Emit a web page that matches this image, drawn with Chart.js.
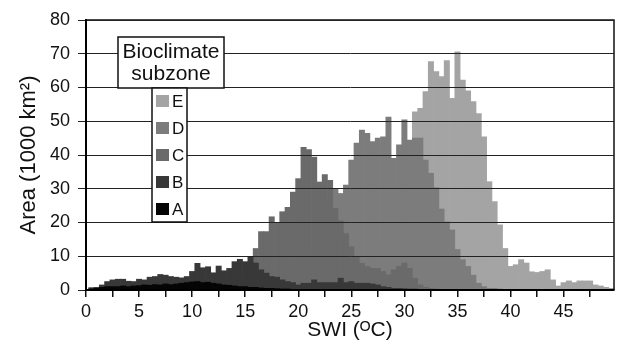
<!DOCTYPE html>
<html>
<head>
<meta charset="utf-8">
<script src="https://cdn.jsdelivr.net/npm/chart.js@4.4.1/dist/chart.umd.min.js"></script>
<style>
  html, body { margin: 0; padding: 0; background: #fff; }
</style>
</head>
<body>
<canvas id="swi" width="621" height="349"></canvas>
<script>
// SWI bin centres (0.5 °C bins)
const swiBins = [
   0.5,  1.0,  1.5,  2.0,  2.5,  3.0,  3.5,  4.0,  4.5,  5.0,
   5.5,  6.0,  6.5,  7.0,  7.5,  8.0,  8.5,  9.0,  9.5, 10.0,
  10.5, 11.0, 11.5, 12.0, 12.5, 13.0, 13.5, 14.0, 14.5, 15.0,
  15.5, 16.0, 16.5, 17.0, 17.5, 18.0, 18.5, 19.0, 19.5, 20.0,
  20.5, 21.0, 21.5, 22.0, 22.5, 23.0, 23.5, 24.0, 24.5, 25.0,
  25.5, 26.0, 26.5, 27.0, 27.5, 28.0, 28.5, 29.0, 29.5, 30.0,
  30.5, 31.0, 31.5, 32.0, 32.5, 33.0, 33.5, 34.0, 34.5, 35.0,
  35.5, 36.0, 36.5, 37.0, 37.5, 38.0, 38.5, 39.0, 39.5, 40.0,
  40.5, 41.0, 41.5, 42.0, 42.5, 43.0, 43.5, 44.0, 44.5, 45.0,
  45.5, 46.0, 46.5, 47.0, 47.5, 48.0, 48.5, 49.0, 49.5
];

// area per bin, 1000 km2
const areaA = [
  0.3,0.5,0.8,1.0,1.0,1.0,1.2,1.0,1.2,1.3,
  1.5,1.4,1.6,1.5,1.8,1.6,1.8,2.0,2.2,2.4,
  2.5,2.2,2.3,2.0,1.8,1.5,1.4,1.2,1.0,1.0,
  0.8,0.8,0.6,0.5,0.5,0.4,0.3,0.3,0.2,0.2,
  0.2,0.2,0.2,0.2,0.2,0.2,0.2,0.2,0.1,0.1,
  0.1,0.1,0.1,0.1,0,0,0,0,0,0,
  0,0,0,0,0,0,0,0,0,0,
  0,0,0,0,0,0,0,0,0,0,
  0,0,0,0,0,0,0,0,0,0,
  0,0,0,0,0,0,0,0,0
];
const areaB = [
  0.7,0.8,1.5,2.5,3.0,3.2,3.2,2.6,2.5,3.2,
  3.0,3.8,4.0,4.6,4.4,4.0,3.8,3.6,4.0,5.5,
  7.9,6.6,6.9,5.1,7.1,5.7,6.4,8.4,9.1,8.4,
  9.9,8.0,6.0,5.0,4.0,3.8,3.0,2.5,2.2,1.5,
  2.0,2.0,3.0,2.2,2.2,2.2,2.2,3.5,2.2,2.5,
  2.0,2.0,2.0,1.8,1.5,1.0,0.8,0.5,0.5,0.4,
  0.3,0.3,0.2,0.2,0.2,0.1,0.1,0,0,0,
  0,0,0,0,0,0,0,0,0,0,
  0,0,0,0,0,0,0,0,0,0,
  0,0,0,0,0,0,0,0,0
];
const areaC = [
  0,0,0,0,0,0,0,0,0,0,
  0,0,0,0,0,0,0,0,0,0,
  0,0,0,0,0,0.5,1.0,2.0,3.0,4.0,
  6.0,12.3,17.3,17.3,21.7,19.8,23.2,24.5,29.0,33.0,
  42.3,41.6,39.4,32.0,34.2,32.5,24.2,20.5,16.7,12.8,
  9.9,7.9,6.9,6.4,6.4,5.5,4.5,6.0,7.0,8.0,
  6.4,3.5,1.5,0.8,0.5,0.3,0.2,0,0,0,
  0,0,0,0,0,0,0,0,0,0,
  0,0,0,0,0,0,0,0,0,0,
  0,0,0,0,0,0,0,0,0
];
const areaD = [
  0,0,0,0,0,0,0,0,0,0,
  0,0,0,0,0,0,0,0,0,0,
  0,0,0,0,0,0,0,0,0,0,
  0,0,0,0,0,0.5,1.0,1.5,2.0,3.0,
  5.0,8.0,11.0,16.0,21.0,27.0,30.1,28.6,31.1,38.5,
  43.5,47.4,46.4,44.0,45.0,45.4,51.2,39.0,43.0,50.4,
  44.4,45.0,45.0,38.5,34.6,30.3,24.0,20.2,17.8,12.0,
  9.0,7.0,4.4,2.0,1.0,0.5,0.5,0.3,0.2,0.2,
  0.1,0,0,0,0,0,0,0,0,0,
  0,0,0,0,0,0,0,0,0
];
const areaE = [
  0,0,0,0,0,0,0,0,0,0,
  0,0,0,0,0,0,0,0,0,0,
  0,0,0,0,0,0,0,0,0,0,
  0,0,0,0,0,0,0,0,0,0,
  0,0,0,0,0,0,0.5,1.0,1.5,2.0,
  4.0,6.0,8.0,10.0,13.0,16.0,20.0,25.0,30.0,36.0,
  42.0,52.8,53.8,58.8,67.7,64.7,63.2,68.0,56.8,70.6,
  62.2,59.0,55.8,52.3,45.4,32.1,26.2,19.3,12.3,7.0,
  7.5,9.0,8.0,5.4,5.2,5.5,6.0,3.0,1.2,2.2,
  2.7,2.2,2.7,2.7,2.7,1.5,1.2,0.8,0.5
];

const subzones = ['A', 'B', 'C', 'D', 'E'];
const subzoneColors = ['#050505', '#383838', '#6a6a6a', '#7c7c7c', '#a4a4a4'];
const areas = [areaA, areaB, areaC, areaD, areaE];

const yTicks = [0, 10, 20, 30, 40, 50, 60, 70, 80];

const fontFamily = "'Liberation Sans', Arial, sans-serif";

// legend box drawn inside the plot, top left
const subzoneKey = {
  id: 'subzoneKey',
  afterDraw(chart) {
    const { ctx, chartArea } = chart;
    const x0 = chartArea.left + 32;
    const y0 = chartArea.top + 17;
    ctx.save();
    ctx.lineWidth = 1.5;
    ctx.strokeStyle = '#111';
    ctx.fillStyle = '#fff';
    // title box
    ctx.fillRect(x0, y0, 106, 51);
    ctx.strokeRect(x0, y0, 106, 51);
    ctx.fillStyle = '#111';
    ctx.font = '21px ' + fontFamily;
    ctx.textAlign = 'center';
    ctx.textBaseline = 'middle';
    ctx.fillText('Bioclimate', x0 + 53, y0 + 15);
    ctx.fillText('subzone', x0 + 53, y0 + 37);
    // entries box
    const bx = x0 + 34, by = y0 + 51;
    ctx.fillStyle = '#fff';
    ctx.fillRect(bx, by, 35, 134);
    ctx.strokeRect(bx, by, 35, 134);
    ctx.font = '17px ' + fontFamily;
    ctx.textAlign = 'left';
    const ds = chart.data.datasets.slice().reverse();
    ds.forEach((d, k) => {
      const cy = by + 13 + k * 27;
      ctx.fillStyle = d.backgroundColor;
      ctx.fillRect(bx + 4, cy - 6, 13, 12);
      ctx.fillStyle = '#111';
      ctx.fillText(d.label, bx + 20, cy + 1);
    });
    ctx.restore();
  }
};

// top and right frame lines
const frame = {
  id: 'frame',
  afterDatasetsDraw(chart) {
    const { ctx, chartArea } = chart;
    ctx.save();
    ctx.strokeStyle = '#111';
    ctx.lineWidth = 1.5;
    ctx.beginPath();
    ctx.moveTo(chartArea.left, chartArea.top);
    ctx.lineTo(chartArea.right, chartArea.top);
    ctx.lineTo(chartArea.right, chartArea.bottom);
    ctx.stroke();
    ctx.restore();
  }
};

new Chart(document.getElementById('swi'), {
  type: 'bar',
  data: {
    datasets: subzones.map((s, i) => ({
      label: s,
      data: swiBins.map((x, j) => ({ x: x, y: areas[i][j] })),
      backgroundColor: subzoneColors[i],
      borderWidth: 0
    }))
  },
  options: {
    responsive: false,
    animation: false,
    devicePixelRatio: 1,
    layout: { padding: { top: 20, right: 7, left: 0, bottom: 0 } },
    datasets: {
      bar: { grouped: false, barPercentage: 1, categoryPercentage: 1 }
    },
    plugins: {
      legend: { display: false },
      tooltip: { enabled: false }
    },
    scales: {
      x: {
        type: 'linear',
        min: 0,
        max: 49.75,
        offset: false,
        afterFit: s => { s.height = 59; },
        ticks: {
          stepSize: 2.5,
          includeBounds: false,
          autoSkip: false,
          maxRotation: 0,
          padding: 4,
          color: '#111',
          font: { family: fontFamily, size: 18 },
          callback: v => (v % 5 === 0 ? String(v) : '')
        },
        grid: { drawOnChartArea: false, tickLength: 7, color: '#111', lineWidth: 1.5, offset: false },
        border: { color: '#000', width: 2, z: 2 },
        title: {
          display: true,
          text: 'SWI (ᴼC)',
          color: '#111',
          font: { family: fontFamily, size: 21 },
          padding: { top: 0, bottom: 6 }
        }
      },
      y: {
        min: 0,
        max: 80,
        afterFit: s => { s.width = 86; },
        afterBuildTicks: s => { s.ticks = yTicks.map(v => ({ value: v })); },
        ticks: {
          padding: 8,
          color: '#111',
          font: { family: fontFamily, size: 18 }
        },
        grid: { color: '#222', lineWidth: 1, tickLength: 8, z: 1 },
        border: { color: '#000', width: 2, z: 2 },
        title: {
          display: true,
          text: 'Area (1000 km²)',
          color: '#111',
          font: { family: fontFamily, size: 22 },
          padding: { top: 16, bottom: 0 }
        }
      }
    }
  },
  plugins: [subzoneKey, frame]
});
</script>
</body>
</html>
